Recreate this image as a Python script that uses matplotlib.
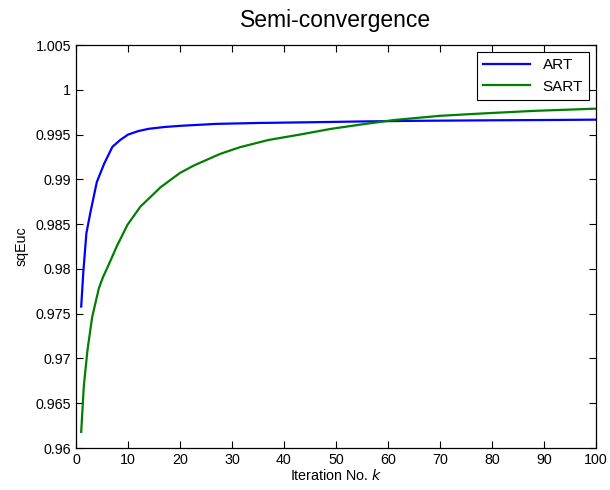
import matplotlib
matplotlib.use("Agg")
import matplotlib.pyplot as plt

plt.rcParams['font.family'] = ['Liberation Sans', 'DejaVu Sans']

# values
art_k = [1, 1.4, 2, 2.8, 4, 5.4, 7, 8.5, 10, 12, 14, 17, 20, 27, 35, 45, 55, 65, 80, 90, 100]
art_val = [0.9758, 0.9796, 0.9840, 0.9864, 0.9897, 0.99173, 0.99364, 0.9944, 0.9950,
           0.9954, 0.99565, 0.99585, 0.99598, 0.9962, 0.9963, 0.99638, 0.99647,
           0.99654, 0.99660, 0.99663, 0.99667]

sart_k = [1, 1.5, 2.2, 3.1, 4.4, 5.2, 6, 7.9, 9.9, 12.4, 16.3, 20, 22.7, 27.7, 31.5,
          37, 43, 49, 54.6, 61, 70, 77.7, 88, 100]
sart_val = [0.9618, 0.9669, 0.9709, 0.9746, 0.97785, 0.9791, 0.9801, 0.9826, 0.98493,
            0.98697, 0.98914, 0.99072, 0.99156, 0.99284, 0.99359, 0.9944, 0.9950,
            0.99564, 0.99611, 0.99662, 0.99710, 0.99735, 0.99765, 0.9979]

yticks = [0.96, 0.965, 0.97, 0.975, 0.98, 0.985, 0.99, 0.995, 1, 1.005]
ytick_labels = ['0.96', '0.965', '0.97', '0.975', '0.98', '0.985', '0.99', '0.995', '1', '1.005']
xticks = list(range(0, 101, 10))

fig = plt.figure(figsize=(6.1, 4.9), dpi=100)
ax = fig.add_axes([0.1246, 0.0857, 0.8524, 0.8223])

ax.plot(art_k, art_val, color=(0, 0, 1), linewidth=1.6, label='ART')
ax.plot(sart_k, sart_val, color=(0, 0.5, 0), linewidth=1.6, label='SART')

ax.set_xlim(0, 100)
ax.set_ylim(0.96, 1.005)
ax.set_xticks(xticks)
ax.set_yticks(yticks)
ax.set_yticklabels(ytick_labels)
ax.tick_params(direction='in', top=True, right=True, labelsize=10.3, length=5, width=0.8)
for s in ax.spines.values():
    s.set_linewidth(0.9)

ax.set_title('Semi-convergence', fontsize=16.5, pad=13)
ax.set_xlabel('Iteration No. $k$', fontsize=10.3, labelpad=1)
ax.set_ylabel('sqEuc', fontsize=10.3, labelpad=5)

leg = ax.legend(loc='upper right', fontsize=11, fancybox=False, framealpha=1,
                edgecolor='black', borderaxespad=0.45, handlelength=3.1)
leg.get_frame().set_linewidth(0.8)

fig.savefig('out.png', dpi=100)
